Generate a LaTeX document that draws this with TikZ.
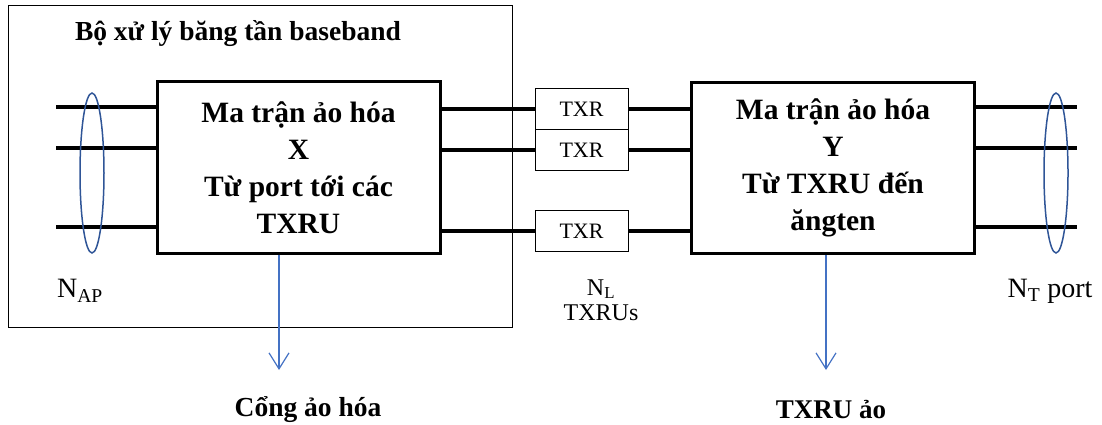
\documentclass[tikz,border=0pt]{standalone}
\usepackage{fontspec}
\setmainfont{Liberation Serif}
\usetikzlibrary{arrows.meta,shapes.geometric}

\definecolor{ringblue}{RGB}{47,85,151}
\definecolor{arrowblue}{RGB}{68,114,196}

\tikzset{
  bus/.style={line width=4pt},
  matbox/.style={draw,line width=3pt,minimum width=283pt,minimum height=171pt,align=center,
    font=\fontsize{29.5}{37}\selectfont\bfseries},
  txrbox/.style={draw,line width=1pt,minimum width=93pt,minimum height=41pt,
    font=\fontsize{22}{26}\selectfont},
  ring/.style={draw=ringblue,line width=1.5pt,ellipse,minimum width=24pt,minimum height=160pt,inner sep=0pt},
  varrow/.style={draw=arrowblue,line width=1.2pt,-{Straight Barb[length=16pt,width=20pt]}},
}

\begin{document}
\begin{tikzpicture}[x=1pt,y=-1pt]
\useasboundingbox (0,0) rectangle (1102,425);
%\draw [help lines,step=50] (0,0) grid (1102,425);

% baseband frame
\node[draw,line width=1pt,minimum width=504pt,minimum height=321pt,inner sep=0pt] (bb) at (260,166.5) {};
\node[font=\fontsize{27.5}{30}\selectfont\bfseries] (bbtitle) at (238,34) {Bộ xử lý băng tần baseband};

% the two matrices
\node[matbox] (X) at (298.5,167.5) {Ma trận ảo hóa\\X\\Từ port tới các\\TXRU};
\node[matbox] (Y) at (833,168) {Ma trận ảo hóa\\Y\\Từ TXRU đến\\ăngten};

% ports in and out
\foreach \i/\y in {1/107,2/148,3/227} {
  \coordinate (in\i) at (56,\y); \draw[bus] (in\i) -- (in\i -| X.west);
  \coordinate (out\i) at (1077,\y); \draw[bus] (out\i -| Y.east) -- (out\i);
}

% TXRUs
\node[txrbox] (t1) at (581.5,109) {TXR};
\node[txrbox] (t2) at (581.5,150) {TXR};
\node[txrbox] (t3) at (581.5,231) {TXR};
\foreach \i in {1,2,3} {
  \draw[bus] (t\i.west -| X.east) -- (t\i.west); \draw[bus] (t\i.east) -- (t\i.east -| Y.west);
}

% groups
\node[ring] (gin) at (92,173) {};
\node[ring] (gout) at (1056,173) {};
\node[font=\fontsize{28}{32}\selectfont] (nap) at (80,291) {N\textsubscript{AP}};
\node[font=\fontsize{28}{32}\selectfont] (nt) at (1050,291) {N\textsubscript{T} port};
\node[font=\fontsize{24}{25}\selectfont,align=center] (nl) at (601,300) {N\textsubscript{L}\\TXRUs};

% virtual outputs
\coordinate (vport) at (279,370); \draw[varrow] (vport |- X.south) -- (vport);
\coordinate (vtxru) at (826,370); \draw[varrow] (vtxru |- Y.south) -- (vtxru);
\node[font=\fontsize{27.5}{30}\selectfont\bfseries] (lport) at (308,410) {Cổng ảo hóa};
\node[font=\fontsize{27}{30}\selectfont\bfseries] (ltxru) at (831,410) {TXRU ảo};

\end{tikzpicture}
\end{document}
